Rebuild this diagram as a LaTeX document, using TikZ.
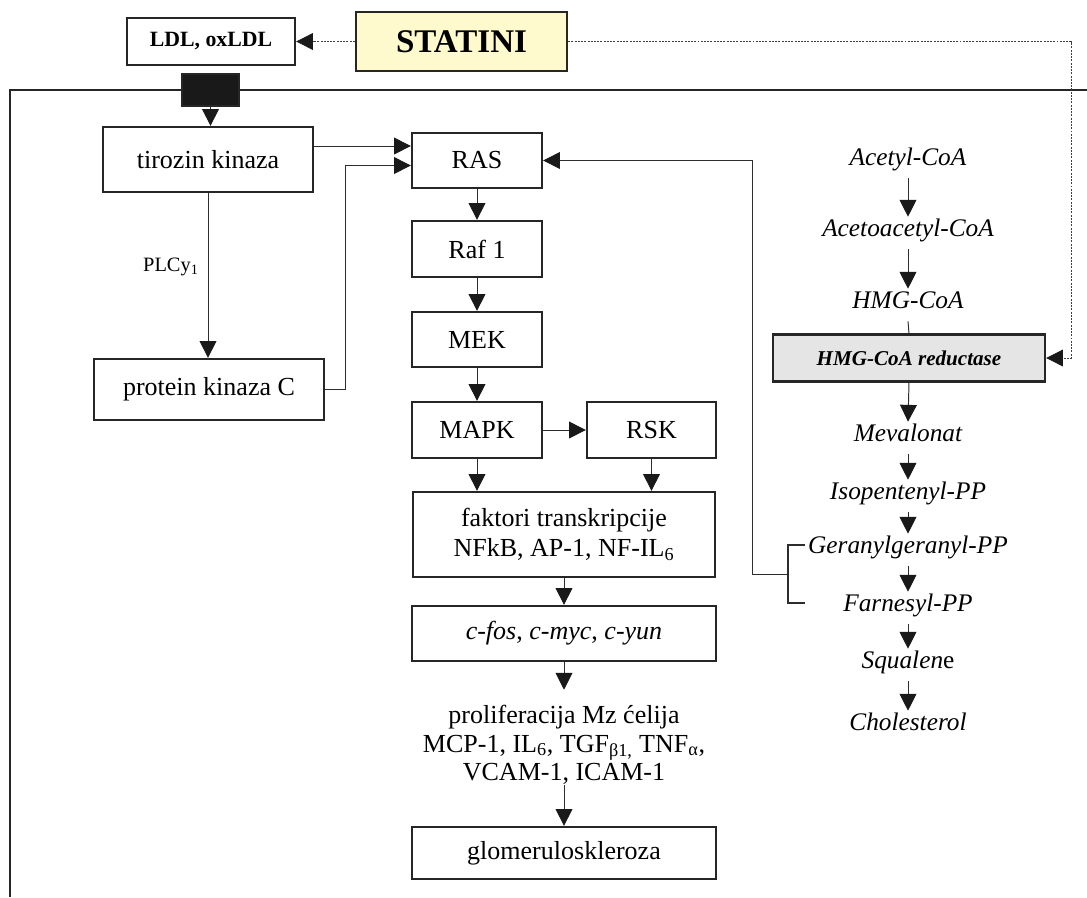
\documentclass[tikz,border=0pt]{standalone}
\usepackage{fontspec}
\setmainfont{Liberation Serif}
\usepackage{tikz}
\usetikzlibrary{positioning,calc}
\usetikzlibrary{arrows.meta}
\definecolor{StatYellow}{RGB}{255,250,205}
\definecolor{EnzGray}{RGB}{229,229,229}
\definecolor{LineGray}{RGB}{45,45,45}
\tikzset{
	box/.style={draw=black!85,line width=1.6pt,fill=white,inner sep=0pt,align=center,
		font=\fontsize{18.5pt}{21pt}\selectfont},
	met/.style={inner sep=0pt,outer ysep=7pt,text height=0.7em,text depth=0.22em,
		font=\fontsize{18pt}{21pt}\selectfont\itshape},
	conn/.style={draw=LineGray,line width=0.7pt,-{Triangle[width=0.42cm,length=0.42cm,color=black!90]}},
	plain/.style={draw=LineGray,line width=0.7pt},
	dots/.style={draw=black!75,line width=0.6pt,dash pattern=on 1.4pt off 0.9pt},
}

\begin{document}
\begin{tikzpicture}[x=0.025cm,y=-0.025cm]
					\useasboundingbox (0,0) rectangle (1087,897);
					\draw[black!85,line width=2pt] (1087,90) -- (10,90) -- (10,897);
					\node[box,minimum width=4.2cm,minimum height=1.175cm,
					font=\fontsize{15.5pt}{18pt}\selectfont\bfseries] (ldl) at (211,41.5) {LDL, oxLDL};
					\node[box,fill=StatYellow,minimum width=5.275cm,minimum height=1.475cm,
					font=\fontsize{23.5pt}{26pt}\selectfont\bfseries] (statini) at (461.5,41.5) {STATINI};
					\node[box,fill=black!90,minimum width=1.425cm,minimum height=0.8cm] (blk) at (210.5,90) {};
					\node[box,minimum width=5.25cm,minimum height=1.625cm] (tirozin) at (208,159.5) {tirozin kinaza};
					\node[box,minimum width=5.75cm,minimum height=1.525cm] (pkc) at (209,389.5) {protein kinaza C};
					\node[box,minimum width=3.25cm,minimum height=1.375cm] (ras) at (477,160.5) {RAS};
					\node[box,minimum width=3.25cm,minimum height=1.4cm] (raf) at (477,249) {Raf 1};
					\node[box,minimum width=3.25cm,minimum height=1.375cm] (mek) at (477,339.5) {MEK};
					\node[box,minimum width=3.25cm,minimum height=1.4cm] (mapk) at (477,430) {MAPK};
					\node[box,minimum width=3.225cm,minimum height=1.4cm] (rsk) at (651.5,430) {RSK};
					\node[box,minimum width=7.55cm,minimum height=2.125cm] (faktori) at (564,534.5)
					{faktori transkripcije\\NFkB, AP-1, NF-IL\textsubscript{6}};
					\node[box,minimum width=7.6cm,minimum height=1.375cm] (cfos) at (564,633.5)
					{\textit{c-fos}, \textit{c-myc}, \textit{c-yun}};
					\node[align=center,inner sep=0pt,font=\fontsize{18.5pt}{20.5pt}\selectfont] (prolif) at (564,745)
					{proliferacija Mz ćelija\\MCP-1, IL\textsubscript{6}, TGF\textsubscript{β1,} TNF\textsubscript{α},\\VCAM-1, ICAM-1};
					\node[box,minimum width=7.6cm,minimum height=1.3cm] (glom) at (564,853) {glomeruloskleroza};
					\node[met] (acoa) at (908,162) {Acetyl-CoA};
					\node[met] (aacoa) at (908,233) {Acetoacetyl-CoA};
					\node[met] (hmgcoa) at (908,305) {HMG-CoA};
					\node[box,fill=EnzGray,minimum width=6.8cm,minimum height=1.175cm,
					font=\fontsize{15pt}{18pt}\selectfont\bfseries\itshape] (hmgr) at (909,358) {HMG-CoA reductase};
					\node[met] (meval) at (908,438) {Mevalonat};
					\node[met] (ipp) at (908,496) {Isopentenyl-PP};
					\node[met] (ggpp) at (908,550) {Geranylgeranyl-PP};
					\node[met] (fpp) at (908,608) {Farnesyl-PP};
					\node[met] (squal) at (908,665) {Squalen\upshape e};
					\node[met] (chol) at (908,727) {Cholesterol};
					\coordinate (dcorner) at (1071,41.5);
					\coordinate (ta) at ($(ras.west)+(0,-14.5)$);
					\coordinate (tb) at ($(ras.west)+(0,5)$);
					\coordinate (gtop) at (805,545);
					\coordinate (gbot) at (805,603);
					\coordinate (brk) at (788,574);
					\draw[dots,-{Triangle[width=0.42cm,length=0.42cm,color=black!90]}] (statini.west) -- (ldl.east);
					\draw[dots,-{Triangle[width=0.42cm,length=0.42cm,color=black!90]}] (statini.east) -- (dcorner) |- (hmgr.east);
					\draw[conn] (blk.south) -- (blk.south |- tirozin.north);
					\draw[conn] (tirozin.east |- ta) -- (ta);
					\draw[conn] (tirozin.south) -- (tirozin.south |- pkc.north)
					node[pos=0.45,left=3pt,font=\fontsize{14.5pt}{17pt}\selectfont] (plc) {PLCy\textsubscript{1}};
					\draw[conn] (pkc.east) -- ++(20,0) |- (tb);
					\foreach \a/\b in {ras/raf,raf/mek,mek/mapk,faktori/cfos,prolif/glom}
					\draw[conn] (\a.south) -- (\b.north);
					\draw[conn] (mapk.east) -- (rsk.west);
					\draw[conn] (mapk.south) -- (mapk.south |- faktori.north);
					\draw[conn] (rsk.south) -- (rsk.south |- faktori.north);
					\draw[conn] (cfos.south) -- ($(prolif.north)+(0,-15)$);
					\foreach \a/\b in {acoa/aacoa,aacoa/hmgcoa,hmgr/meval,meval/ipp,ipp/ggpp,ggpp/fpp,fpp/squal,squal/chol}
					\draw[conn] (\a.south) -- (\b.north);
					\draw[plain] (hmgcoa.south) -- (hmgr.north);
					\draw[draw=LineGray,line width=1.3pt] (gtop) -| (brk) |- (gbot);
					\draw[conn] (brk) -- ++(-36,0) |- (ras.east);
				\end{tikzpicture}
\end{document}
